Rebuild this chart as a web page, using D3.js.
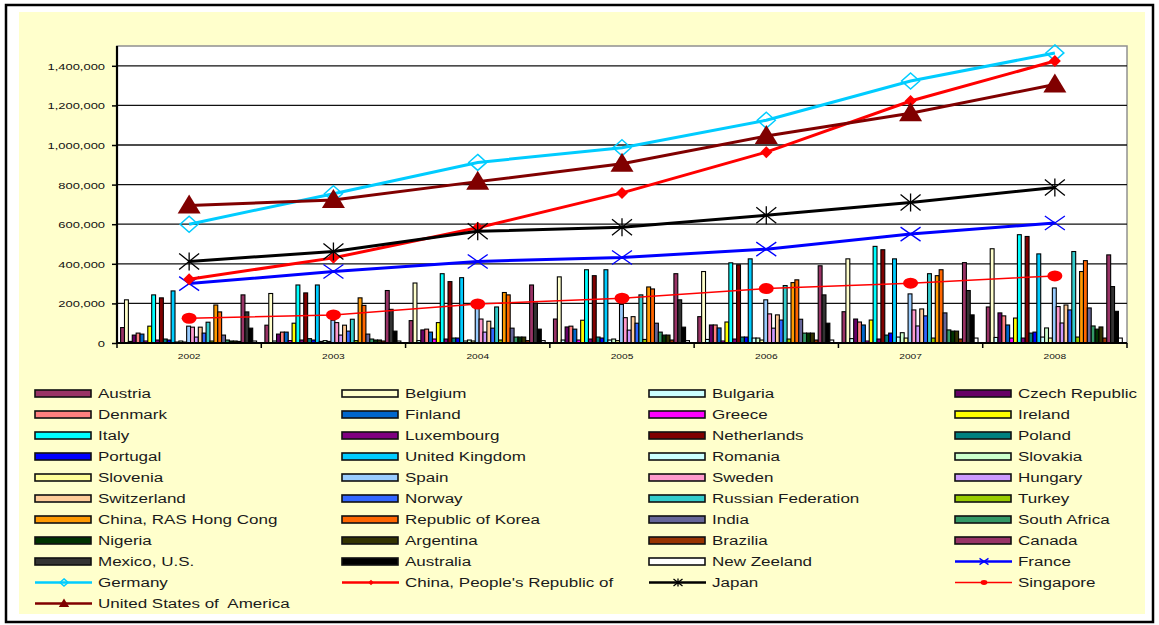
<!DOCTYPE html>
<html><head><meta charset="utf-8">
<script src="https://cdn.jsdelivr.net/npm/d3@7/dist/d3.min.js"></script>
<style>body{margin:0;background:#fff}svg{display:block}text{font-family:"Liberation Sans",Arial,sans-serif;white-space:pre}</style>
</head><body><svg id="c" width="1159" height="625"></svg>
<script>
// ---- data ----
const years = ["2002","2003","2004","2005","2006","2007","2008"];
const yTicks = [0,200000,400000,600000,800000,1000000,1200000,1400000];

const barNames = ["Austria","Belgium","Bulgaria","Czech Republic","Denmark","Finland","Greece","Ireland","Italy","Luxembourg","Netherlands","Poland","Portugal","United Kingdom","Romania","Slovakia","Slovenia","Spain","Sweden","Hungary","Switzerland","Norway","Russian Federation","Turkey","China, RAS Hong Cong","Republic of Korea","India","South Africa","Nigeria","Argentina","Brazilia","Canada","Mexico, U.S.","Australia","New Zeeland"];

const austria     = [78000, 90000,113000,121000,133000,158000,182000];
const belgium     = [218000,250000,303000,334000,361000,425000,476000];
const bulgaria    = [8000, 10000, 12000, 15000, 18000, 22000, 28000];
const czech       = [40000, 45000, 66000, 81000, 91000,121000,152000];
const denmark     = [50000, 55000, 70000, 85000, 91000,106000,137000];
const finland     = [45000, 55000, 55000, 70000, 76000, 91000, 91000];
const greece      = [10000, 12000, 20000, 15000, 10000, 10000, 25000];
const ireland     = [85000,100000,103000,115000,106000,116000,126000];
const italy       = [243000,293000,350000,370000,405000,488000,547000];
const luxembourg  = [15000, 15000, 20000, 20000, 20000, 20000, 25000];
const netherlands = [228000,253000,310000,340000,395000,471000,538000];
const poland      = [20000, 22000, 25000, 30000, 30000, 40000, 50000];
const portugal    = [15000, 15000, 25000, 25000, 30000, 50000, 55000];
const uk          = [263000,293000,330000,370000,425000,425000,450000];
const romania     = [5000, 8000, 10000, 15000, 25000, 30000, 30000];
const slovakia    = [10000, 12000, 15000, 20000, 25000, 52000, 76000];
const slovenia    = [5000, 8000, 10000, 12000, 15000, 25000, 25000];
const spain       = [85000,115000,177000,195000,218000,248000,278000];
const sweden      = [80000,103000,121000,128000,147000,167000,184000];
const hungary     = [30000, 40000, 55000, 65000, 75000, 86000,101000];
const switzerland = [80000, 90000,110000,133000,142000,172000,192000];
const norway      = [50000, 60000, 75000,100000,116000,137000,167000];
const russia      = [105000,120000,182000,243000,290000,350000,462000];
const turkey      = [10000, 12000, 15000, 18000, 20000, 25000, 30000];
const hongkong    = [192000,228000,255000,283000,305000,340000,361000];
const korea       = [157000,190000,243000,273000,319000,370000,416000];
const india       = [40000, 45000, 75000,100000,120000,152000,177000];
const southAfrica = [15000, 20000, 30000, 55000, 50000, 66000, 86000];
const nigeria     = [10000, 15000, 30000, 40000, 50000, 60000, 70000];
const argentina   = [10000, 15000, 30000, 40000, 50000, 60000, 81000];
const brazilia    = [8000, 10000, 12000, 15000, 15000, 20000, 25000];
const canada      = [243000,265000,293000,350000,390000,406000,445000];
const mexico      = [157000,170000,202000,218000,243000,265000,285000];
const australia   = [75000, 60000, 70000, 80000,100000,142000,160000];
const newZeeland  = [10000, 10000, 12000, 12000, 15000, 25000, 25000];

const france    = [300000,361000,412000,432000,474000,550000,606000];
const germany   = [600000,754000,912000,986000,1125000,1323000,1465000];
const chinaPR   = [322000,430000,582000,758000,964000,1222000,1424000];
const japan     = [412000,462000,564000,585000,645000,710000,785000];
const singapore = [125000,142000,197000,226000,275000,302000,339000];
const usa       = [695000,722000,815000,905000,1045000,1160000,1306000];

const lineNames = ["France","Germany","China, People's Republic of","Japan","Singapore","United States of  America"];

// ---- styles ----
const barColors = ["#993366","#FFFFCC","#CCFFFF","#660066","#FF8080","#0066CC","#FF00FF","#FFFF00","#00FFFF","#800080","#800000","#008080","#0000FF","#00CCFF","#CCFFFF","#CCFFCC","#FFFF99","#99CCFF","#FF99CC","#CC99FF","#FFCC99","#3366FF","#33CCCC","#99CC00","#FF9900","#FF6600","#666699","#339966","#003300","#333300","#993300","#993366","#333333","#000000","#FFFFFF"];
const lineColors = ["#0000FF","#00CCFF","#FF0000","#000000","#FF0000","#800000"];
const lineWidths = [3,3,3,3,1.5,3];
const lineMarkers = ["x","diamondOpen","diamond","asterisk","circle","triangle"];

const barValues = [austria,belgium,bulgaria,czech,denmark,finland,greece,ireland,italy,luxembourg,netherlands,poland,portugal,uk,romania,slovakia,slovenia,spain,sweden,hungary,switzerland,norway,russia,turkey,hongkong,korea,india,southAfrica,nigeria,argentina,brazilia,canada,mexico,australia,newZeeland];
const lineValues = [france,germany,chinaPR,japan,singapore,usa];

// ---- drawing ----
const svg = d3.select("#c");
const SX = 1.36; // horizontal text stretch of the original
const L = 117, R = 1127, T = 46, B = 343;

svg.append("rect").attr("x",6).attr("y",5).attr("width",1147).attr("height",617)
  .attr("fill","#fff").attr("stroke","#000").attr("stroke-width",2.5);
svg.append("rect").attr("x",19).attr("y",12).attr("width",1126).attr("height",602).attr("fill","#FFFFCC");
svg.append("rect").attr("x",L).attr("y",T).attr("width",R-L).attr("height",B-T)
  .attr("fill","#fff").attr("stroke","#909090").attr("stroke-width",1.5);

const x0 = d3.scaleBand().domain(years).range([L,R]);
const gap = x0.bandwidth()*0.025;
const x1 = d3.scaleBand().domain(barNames).range([gap, x0.bandwidth()-gap*1.3]);
const y = d3.scaleLinear().domain([0,1500000]).range([B,T]);

// gridlines
svg.append("g").selectAll("line").data(yTicks.slice(1)).join("line")
  .attr("x1",L).attr("x2",R).attr("y1",d=>y(d)).attr("y2",d=>y(d))
  .attr("stroke","#111").attr("stroke-width",1.3);

// bars
const bars = svg.append("g");
barNames.forEach((n,i)=>{
  bars.append("g").selectAll("rect").data(barValues[i]).join("rect")
    .attr("x",(d,j)=>x0(years[j])+x1(n))
    .attr("y",d=>y(d))
    .attr("width",x1.bandwidth())
    .attr("height",d=>B-y(d))
    .attr("fill",barColors[i]).attr("stroke","#000").attr("stroke-width",1.1);
});

// axes
const yAxis = svg.append("g").attr("transform",`translate(${L},0)`)
  .call(d3.axisLeft(y).tickValues(yTicks).tickSize(5).tickFormat(d3.format(",")));
yAxis.select(".domain").remove();
yAxis.selectAll(".tick line").attr("stroke","#000").attr("stroke-width",1.5);
yAxis.selectAll(".tick text").attr("font-size",9.5).attr("fill","#111")
  .attr("x",-12/SX).attr("transform",`scale(${SX},1)`).attr("dy","0.36em")
  .style("font-family","'Liberation Sans',Arial,sans-serif");

const xAxis = svg.append("g").attr("transform",`translate(0,${B})`)
  .call(d3.axisBottom(x0).tickSize(0).tickFormat(d=>d));
xAxis.select(".domain").remove();
xAxis.selectAll(".tick text").attr("font-size",7.5).attr("fill","#111")
  .attr("transform",`scale(${SX},1)`).attr("x",0).attr("y",16).attr("dy",0)
  .style("font-family","'Liberation Sans',Arial,sans-serif");
// x ticks at category boundaries
svg.append("g").selectAll("line").data(years.concat(["end"])).join("line")
  .attr("x1",(d,i)=>i<years.length?x0(d):R).attr("x2",(d,i)=>i<years.length?x0(d):R)
  .attr("y1",B).attr("y2",B+5).attr("stroke","#000").attr("stroke-width",1.5);
svg.append("line").attr("x1",L).attr("x2",L).attr("y1",T).attr("y2",B+1).attr("stroke","#000").attr("stroke-width",2.2);
svg.append("line").attr("x1",L-1).attr("x2",R).attr("y1",B).attr("y2",B).attr("stroke","#000").attr("stroke-width",2.2);

// markers
function marker(g, type, color, k){
  const s = k||1;
  if(type==="x"){
    g.append("path").attr("d",`M${-10*s},${-7*s}L${10*s},${7*s}M${-10*s},${7*s}L${10*s},${-7*s}`)
      .attr("stroke",color).attr("stroke-width",1.3).attr("fill","none");
  } else if(type==="asterisk"){
    g.append("path").attr("d",`M${-10*s},${-8*s}L${10*s},${8*s}M${-10*s},${8*s}L${10*s},${-8*s}M0,${-9*s}L0,${9*s}`)
      .attr("stroke",color).attr("stroke-width",1.3).attr("fill","none");
  } else if(type==="diamondOpen"){
    g.append("path").attr("d",`M0,${-8*s}L${9*s},0L0,${8*s}L${-9*s},0Z`)
      .attr("stroke",color).attr("stroke-width",1.5).attr("fill","none");
  } else if(type==="diamond"){
    g.append("path").attr("d",`M0,${-6*s}L${6*s},0L0,${6*s}L${-6*s},0Z`).attr("fill",color);
  } else if(type==="circle"){
    g.append("ellipse").attr("rx",7.5*s).attr("ry",5.5*s).attr("fill",color);
  } else if(type==="triangle"){
    g.append("path").attr("d",`M0,${-11*s}L${11.5*s},${8*s}L${-11.5*s},${8*s}Z`).attr("fill",color);
  }
}

const xc = d=>x0(d)+x0.bandwidth()/2;
const lines = svg.append("g");
lineNames.forEach((n,i)=>{
  const pts = lineValues[i].map((v,j)=>[xc(years[j]), y(v)]);
  lines.append("path").attr("d",d3.line()(pts)).attr("fill","none")
    .attr("stroke",lineColors[i]).attr("stroke-width",lineWidths[i]);
  pts.forEach(p=>{
    const g = lines.append("g").attr("transform",`translate(${p[0]},${p[1]})`);
    marker(g, lineMarkers[i], lineColors[i], 1);
  });
});

// legend
const legendItems = barNames.map((n,i)=>({name:n, type:"bar", color:barColors[i]}))
  .concat(lineNames.map((n,i)=>({name:n, type:"line", color:lineColors[i], w:lineWidths[i], m:lineMarkers[i]})));
const colX = [35, 342, 649, 955];
const rowY0 = 393.5, rowStep = 21;
const leg = svg.append("g");
legendItems.forEach((it,i)=>{
  const c = i%4, r = Math.floor(i/4);
  const gx = colX[c], gy = rowY0 + r*rowStep;
  const g = leg.append("g").attr("transform",`translate(${gx},${gy})`);
  if(it.type==="bar"){
    g.append("rect").attr("x",0).attr("y",-3.5).attr("width",56).attr("height",7)
      .attr("fill",it.color).attr("stroke","#111").attr("stroke-width",1.6);
  } else {
    g.append("line").attr("x1",0).attr("x2",57).attr("y1",0).attr("y2",0)
      .attr("stroke",it.color).attr("stroke-width",it.w===3?2.5:1.5);
    const mg = g.append("g").attr("transform","translate(29,0)");
    marker(mg, it.m, it.color, 0.45);
  }
  g.append("text").attr("transform",`translate(63,4.6) scale(${SX},1)`)
    .attr("font-size",12.5).attr("fill","#1a1a1a").text(it.name);
});
</script></body></html>
